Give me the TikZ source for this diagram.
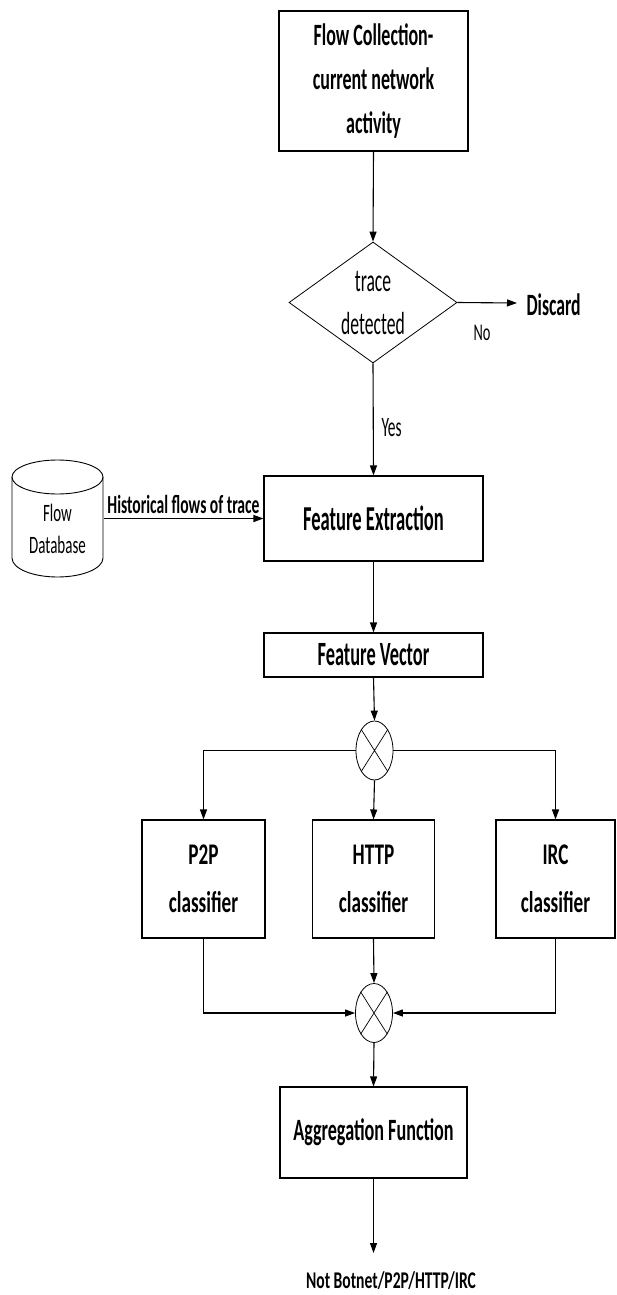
\documentclass[tikz,border=0pt]{standalone}
\usepackage{fontspec}
\usepackage{graphicx}
\setmainfont{Carlito}
\usetikzlibrary{shapes.geometric,arrows.meta}
\newcommand{\sq}[2][0.52]{\scalebox{#1}[1]{#2}}
\newcommand{\fs}[2]{\fontsize{#1}{#2}\selectfont}
\begin{document}
\begin{tikzpicture}[x=1pt,y=-1pt,
  line width=1.1pt,
  arr/.style={-{Triangle[length=10pt,width=7pt]}},
  boxx/.style={draw, rectangle, inner sep=0pt, align=center},
  lbl/.style={inner sep=0pt, align=center},
  xcirc/.style={draw, ellipse, minimum width=37pt, minimum height=59pt, inner sep=0pt, line width=0.8pt}
]
\useasboundingbox (0,0) rectangle (616,1295);

% nodes
\node[boxx, minimum width=189pt, minimum height=140pt, font=\bfseries\fs{31}{44}] (fc) at (373.5,81)
  {\sq[0.58]{Flow Collection-}\\\sq[0.58]{current network}\\\sq[0.58]{activity}};
\node[draw, diamond, minimum width=168pt, minimum height=121pt, inner sep=0pt, line width=0.8pt] (dec) at (373,302.5) {};
\node[lbl, font=\fs{32}{43}] (dect) at (373,303) {\sq[0.55]{trace}\\\sq[0.55]{detected}};
\coordinate (disc) at (517,303);
\node[lbl, anchor=west, font=\bfseries\fs{31}{36}] (discard) at (526,305) {\sq[0.57]{Discard}};
\node[lbl, font=\fs{24}{28}] (no) at (482,333) {\sq[0.6]{No}};
\node[lbl, anchor=west, font=\fs{28}{30}] (yes) at (381,428) {\sq[0.55]{Yes}};

\node[minimum width=91pt, minimum height=117pt, inner sep=0pt] (db) at (57.5,518.5) {};
\draw[line width=0.9pt] (57.5,477) ellipse[x radius=45.5, y radius=17];
\draw[line width=0.9pt] (12,477) -- (12,558) arc[start angle=180, end angle=0, x radius=45.5, y radius=19] -- (103,477);
\node[lbl, font=\fs{25}{32}] (dbt) at (57.5,529) {\sq[0.6]{Flow}\\\sq[0.6]{Database}};

\node[boxx, minimum width=219pt, minimum height=85pt, font=\bfseries\fs{35}{40}] (fe) at (373.5,518.5) {\sq[0.53]{Feature Extraction}};
\node[boxx, minimum width=219pt, minimum height=44pt, font=\bfseries\fs{34}{40}] (fv) at (373.5,655) {\sq[0.54]{Feature Vector}};

\node[xcirc] (c1) at (374.5,750.5) {};

\node[boxx, minimum width=123pt, minimum height=118pt, font=\bfseries\fs{30}{48}] (p2p) at (203.5,879) {\sq[0.64]{P2P}\\\sq[0.64]{classifier}};
\node[boxx, minimum width=122pt, minimum height=118pt, font=\bfseries\fs{30}{48}] (http) at (373.5,879) {\sq[0.64]{HTTP}\\\sq[0.64]{classifier}};
\node[boxx, minimum width=119pt, minimum height=118pt, font=\bfseries\fs{30}{48}] (irc) at (555.5,879) {\sq[0.64]{IRC}\\\sq[0.64]{classifier}};

\node[xcirc] (c2) at (374,1013) {};

\node[boxx, minimum width=187pt, minimum height=91pt, font=\bfseries\fs{31}{40}] (agg) at (373.5,1132.5) {\sq[0.585]{Aggregation Function}};
\coordinate (outend) at (373.5,1253);
\node[lbl, font=\bfseries\fs{24}{28}] (out) at (391,1281) {\sq[0.65]{Not Botnet/P2P/HTTP/IRC}};

% crosses
\draw[line width=0.7pt] (c1.north west) -- (c1.south east) (c1.north east) -- (c1.south west);
\draw[line width=0.7pt] (c2.north west) -- (c2.south east) (c2.north east) -- (c2.south west);

% connectors
\draw[arr] (fc.south) -- (dec.north);
\draw[arr] (dec.east) -- (disc);
\draw[arr] (dec.south) -- (fe.north);
\draw[arr] (db.east) -- node[lbl, above=4pt, font=\bfseries\fs{26}{30}] (hist) {\sq[0.6]{Historical flows of trace}} (fe.west);
\draw[arr] (fe.south) -- (fv.north);
\draw[arr] (fv.south) -- (c1.north);
\draw[arr] (c1.west) -| (p2p.north);
\draw[arr] (c1.south) -- (http.north);
\draw[arr] (c1.east) -| (irc.north);
\draw[arr] (p2p.south) |- (c2.west);
\draw[arr] (http.south) -- (c2.north);
\draw[arr] (irc.south) |- (c2.east);
\draw[arr] (c2.south) -- (agg.north);
\draw[arr] (agg.south) -- (outend);
\end{tikzpicture}
\end{document}
